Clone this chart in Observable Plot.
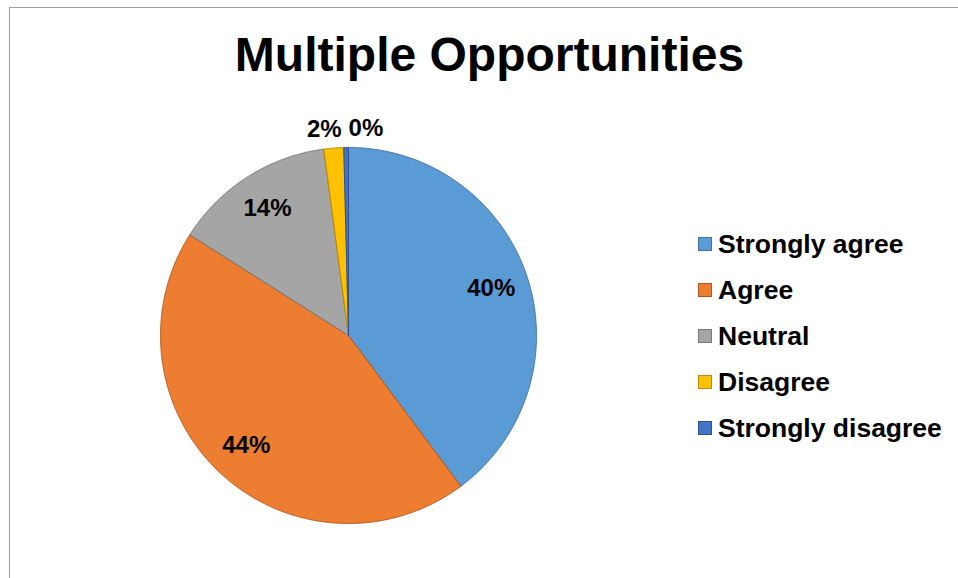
<!DOCTYPE html>
<html>
<head>
<meta charset="utf-8">
<script src="https://cdn.jsdelivr.net/npm/d3@7"></script>
<script src="https://cdn.jsdelivr.net/npm/@observablehq/plot@0.6"></script>
<style>
  html, body { margin: 0; padding: 0; background: #fff; }
  body { width: 958px; height: 578px; overflow: hidden; font-family: "Liberation Sans", Arial, sans-serif; }
  #frame { position: absolute; left: 9px; top: 7px; width: 960px; height: 600px;
           border-top: 1px solid #9f9f9f; border-left: 1px solid #9f9f9f; }
  #title { position: absolute; left: 0; top: 31px; width: 979px; text-align: center;
           font-size: 48px; line-height: 48px; font-weight: bold; color: #000; }
  #chart { position: absolute; left: 0; top: 90px; }
  #legend { position: absolute; left: 698px; top: 221px; }
  .row { display: flex; align-items: center; height: 46px; font-size: 26.5px; font-weight: bold; color: #000; white-space: nowrap; }
  .sw { width: 12px; height: 12px; border: 1px solid; margin-right: 6px; flex: none; }
</style>
</head>
<body>
<div id="frame"></div>
<div id="title"></div>
<div id="chart"></div>
<div id="legend"></div>
<script>
const chartTitle = "Multiple Opportunities";
const categories = ["Strongly agree", "Agree", "Neutral", "Disagree", "Strongly disagree"];
const values = [39.8, 44.2, 13.9, 1.7, 0.4];
const fills = ["#5B9BD5", "#ED7D31", "#A5A5A5", "#FFC000", "#4472C4"];
const strokes = ["#41719C", "#AE5A21", "#787878", "#BC8C00", "#2F528F"];

document.getElementById("title").textContent = chartTitle;

const W = 958, H = 488;
const cx = 348, cy = 245, R = 188;

const total = d3.sum(values);
const arcs = d3.pie().sort(null).value(d => d)(values);

// slice polygons in data units (pixels relative to centre, y up)
const pts = [];
arcs.forEach((a, i) => {
  const name = categories[i];
  const push = (x, y) => pts.push({name, x, y, fill: fills[i], stroke: strokes[i]});
  push(0, 0);
  const n = Math.max(4, Math.ceil((a.endAngle - a.startAngle) / (Math.PI / 720)));
  for (let k = 0; k <= n; k++) {
    const t = a.startAngle + (a.endAngle - a.startAngle) * k / n;
    push(R * Math.sin(t), R * Math.cos(t));
  }
  push(0, 0);
});

// data labels
let outsideIdx = 0;
const labels = arcs.map((a, i) => {
  const mid = (a.startAngle + a.endAngle) / 2;
  const pct = Math.round(values[i] / total * 100) + "%";
  const share = values[i] / total;
  if (share >= 0.05) {
    const r = R * 0.8;
    return {x: r * Math.sin(mid), y: r * Math.cos(mid), text: pct};
  } else {
    const r = R + 19;
    const nudge = outsideIdx++ === 0 ? -8 : 20;
    return {x: r * Math.sin(mid) + nudge, y: r * Math.cos(mid), text: pct};
  }
});

const plot = Plot.plot({
  width: W,
  height: H,
  margin: 0,
  x: {domain: [-cx, W - cx], axis: null},
  y: {domain: [-(H - cy), cy], axis: null},
  color: {type: "identity"},
  style: {fontFamily: '"Liberation Sans", Arial, sans-serif', background: "transparent"},
  marks: [
    Plot.line(pts, {x: "x", y: "y", z: "name", fill: "fill", stroke: "stroke", strokeWidth: 1, curve: "linear-closed"}),
    Plot.text(labels, {x: "x", y: "y", text: "text", fontSize: 24, fontWeight: "bold", fill: "#000"})
  ]
});
document.getElementById("chart").appendChild(plot);

const legend = document.getElementById("legend");
categories.forEach((c, i) => {
  const row = document.createElement("div");
  row.className = "row";
  const sw = document.createElement("span");
  sw.className = "sw";
  sw.style.background = fills[i];
  sw.style.borderColor = strokes[i];
  const t = document.createElement("span");
  t.textContent = c;
  row.appendChild(sw);
  row.appendChild(t);
  legend.appendChild(row);
});
</script>
</body>
</html>
